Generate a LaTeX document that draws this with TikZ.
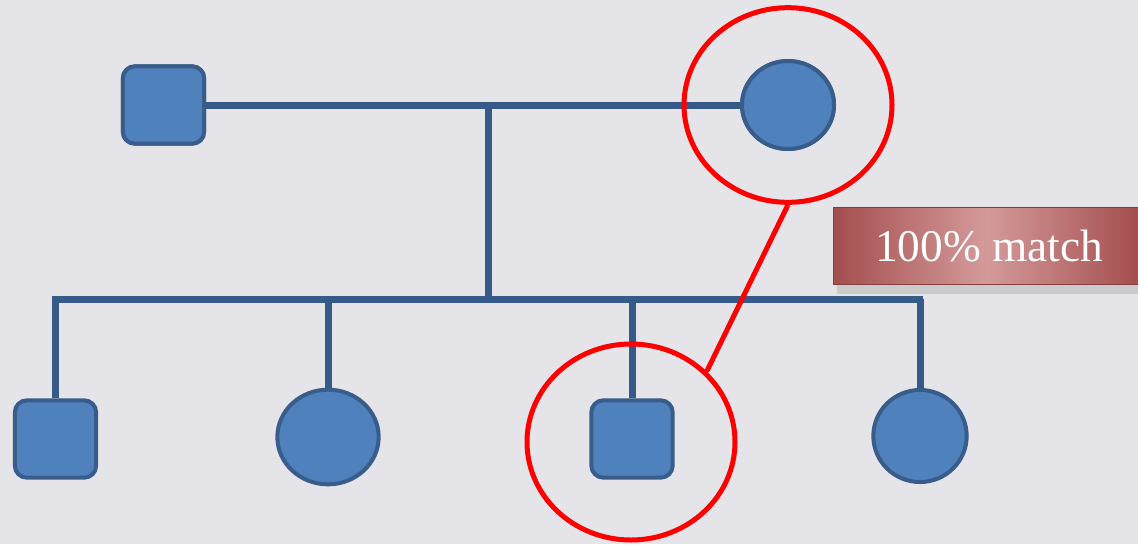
\documentclass[tikz,border=0pt]{standalone}
\usepackage{fontspec}
\setmainfont{Liberation Serif}
\usetikzlibrary{shadows,calc,shapes.geometric}
\definecolor{bg}{HTML}{E5E4E9}
\definecolor{bfill}{HTML}{4F81BD}
\definecolor{bdraw}{HTML}{385D8A}
\definecolor{lblue}{HTML}{355A88}
\definecolor{rdark}{HTML}{A44E4E}
\definecolor{rlight}{HTML}{D49A9A}
\tikzset{
  px/.style={x=0.75pt,y=-0.75pt},
  male/.style={draw=bdraw,fill=bfill,line width=3pt,rectangle,rounded corners=9pt,minimum width=61pt,minimum height=58pt,inner sep=0pt},
  female/.style={draw=bdraw,fill=bfill,line width=3pt,ellipse,inner sep=0pt},
  link/.style={draw=lblue,line width=5.25pt},
  ring/.style={draw=red,line width=3.75pt,ellipse,inner sep=0pt},
  tag/.style={rectangle,inner sep=0pt,
     left color=rdark,right color=rdark,middle color=rlight,draw=rdark!80!black,line width=0.6pt,
     drop shadow={shadow xshift=3pt,shadow yshift=-7pt,fill=black!30,opacity=0.5}},
  tagtext/.style={text=white,font=\fontsize{34}{40}\selectfont}
}
\begin{document}
\begin{tikzpicture}[px]
\fill[bg] (0,0) rectangle (1138,544);
\useasboundingbox (0,0) rectangle (1138,544);
% label
\node[tag,minimum width=229pt,minimum height=58pt,anchor=north west] (lbl) at (833,207) {};
\node[tagtext] (lbltext) at (989,246) {100\% match};
% parents
\node[male] (f) at (163.5,105) {};
\node[female,minimum width=69pt,minimum height=66pt] (m) at (788,105) {};
% children
\node[male] (c1) at (55.5,439) {};
\node[female,minimum width=76pt,minimum height=71pt] (c2) at (328,437) {};
\node[male] (c3) at (632,439) {};
\node[female,minimum width=70pt,minimum height=69pt] (c4) at (920,436) {};
% junctions
\coordinate (mid) at (488,105);
\coordinate (sib) at (488,299);
\coordinate (s1) at (55.5,299);
\coordinate (s2) at (328,299);
\coordinate (s3) at (632,299);
\coordinate (s4) at (920,299);
% connectors
\draw[link] (f.east) -- (m.west);
\draw[link] (mid) -- (sib);
\draw[link] ([xshift=-2.6pt]s1) -- ([xshift=2.6pt]s4);
\draw[link] (s1) -- (c1.north);
\draw[link] (s2) -- (c2.north);
\draw[link] (s3) -- (c3.north);
\draw[link] (s4) -- (c4.north);
% redraw shapes over lines
\node[male] at (f) {};
\node[female,minimum width=69pt,minimum height=66pt] at (m) {};
% red rings
\node[ring,minimum width=156pt,minimum height=146pt] (r1) at (788,105) {};
\node[ring,minimum width=156pt,minimum height=147pt] (r2) at (631,442) {};
\draw[red,line width=3.75pt] (r1.south) -- (r2.43);
\end{tikzpicture}
\end{document}
